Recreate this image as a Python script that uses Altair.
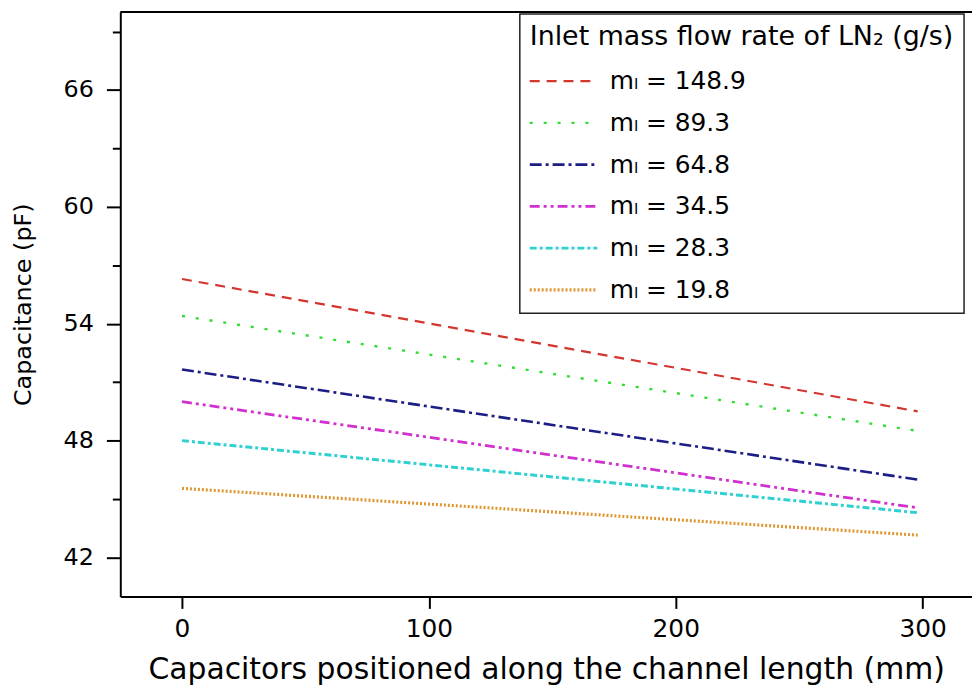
import altair as alt
import pandas as pd

# ---- data ----
series = ["mₗ = 148.9", "mₗ = 89.3", "mₗ = 64.8", "mₗ = 34.5", "mₗ = 28.3", "mₗ = 19.8"]
positions = [0, 298]                      # mm along channel
cap_start = [56.3, 54.4, 51.65, 50.0, 48.0, 45.55]   # pF at x = 0
cap_end = [49.5, 48.5, 46.0, 44.55, 44.3, 43.15]     # pF at x = 298
colors = ["#d4352f", "#2fdc2f", "#1d1d86", "#cf30cf", "#2fd0d0", "#de9630"]
dashes = [[10, 7], [3, 11], [12, 4, 3, 4], [10, 4, 3, 4, 3, 4], [7, 3, 3, 3], [2, 2]]
widths = [2.2, 3.2, 2.2, 2.2, 2.2, 2.6]
x_ticks = [0, 100, 200, 300]
y_ticks = [42, 45, 48, 51, 54, 57, 60, 63, 66, 69]
frame_top = [70]

rows = []
for name, a, b in zip(series, cap_start, cap_end):
    rows.append({"pos": positions[0], "cap": a, "series": name})
    rows.append({"pos": positions[1], "cap": b, "series": name})
df = pd.DataFrame(rows)

FONT = "DejaVu Sans"

legend = alt.Legend(
    title="Inlet mass flow rate of LN₂ (g/s)",
    orient="none", legendX=402, legendY=2, direction="vertical",
    symbolType="M-4,0H4", symbolSize=289, symbolOffset=21.5,
    labelOffset=34, rowPadding=16, titlePadding=18, padding=10,
    titleFontSize=27, titleFont=FONT, titleFontWeight="normal", titleColor="black",
    titleLimit=700, labelLimit=500,
    labelFontSize=25, labelFont=FONT, labelColor="black",
    strokeColor="#222222", fillColor="white",
)

x_enc = alt.X(
    "pos:Q",
    scale=alt.Scale(domain=[-25, 320], nice=False, zero=False),
    axis=alt.Axis(
        values=x_ticks, format="d", tickSize=12, labelPadding=8,
        labelFontSize=25, labelFont=FONT,
        title="Capacitors positioned along the channel length (mm)",
        titleFontSize=30, titleFont=FONT, titleFontWeight="normal",
        titleBaseline="alphabetic", titleY=83,
    ),
)
y_enc = alt.Y(
    "cap:Q",
    scale=alt.Scale(domain=[40, 70], nice=False, zero=False),
    axis=alt.Axis(
        values=y_ticks, tickSize=14, labelPadding=13,
        labelExpr="datum.value % 6 == 0 ? datum.label : ''",
        tickDash={"condition": {"test": "datum.value % 6 != 0", "value": [8, 100]},
                  "value": [30, 1]},
        labelFontSize=24, labelFont=FONT,
        title="Capacitance (pF)", titleFontSize=24, titleFont=FONT,
        titleFontWeight="normal", titleBaseline="alphabetic", titleX=-90,
    ),
)

lines = alt.Chart(df).mark_line().encode(
    x=x_enc,
    y=y_enc,
    color=alt.Color("series:N", scale=alt.Scale(domain=series, range=colors), legend=legend),
    strokeDash=alt.StrokeDash("series:N", scale=alt.Scale(domain=series, range=dashes), legend=legend),
    strokeWidth=alt.StrokeWidth("series:N", scale=alt.Scale(domain=series, range=widths), legend=legend),
)

top_rule = alt.Chart(pd.DataFrame({"cap": frame_top})).mark_rule(color="black", strokeWidth=2).encode(
    y=y_enc
)

chart = alt.layer(lines, top_rule).properties(
    width=857, height=588,
    padding={"left": 113, "top": 2, "right": 0, "bottom": 94},
    autosize=alt.AutoSizeParams(type="none"),
).configure_view(stroke=None).configure_axis(
    grid=False, domainColor="black", domainWidth=2, tickColor="black", tickWidth=2,
    labelColor="black", titleColor="black",
).configure_legend(strokeWidth=1.5)

chart.save("out.html", embed_options={"renderer": "svg", "actions": False})
